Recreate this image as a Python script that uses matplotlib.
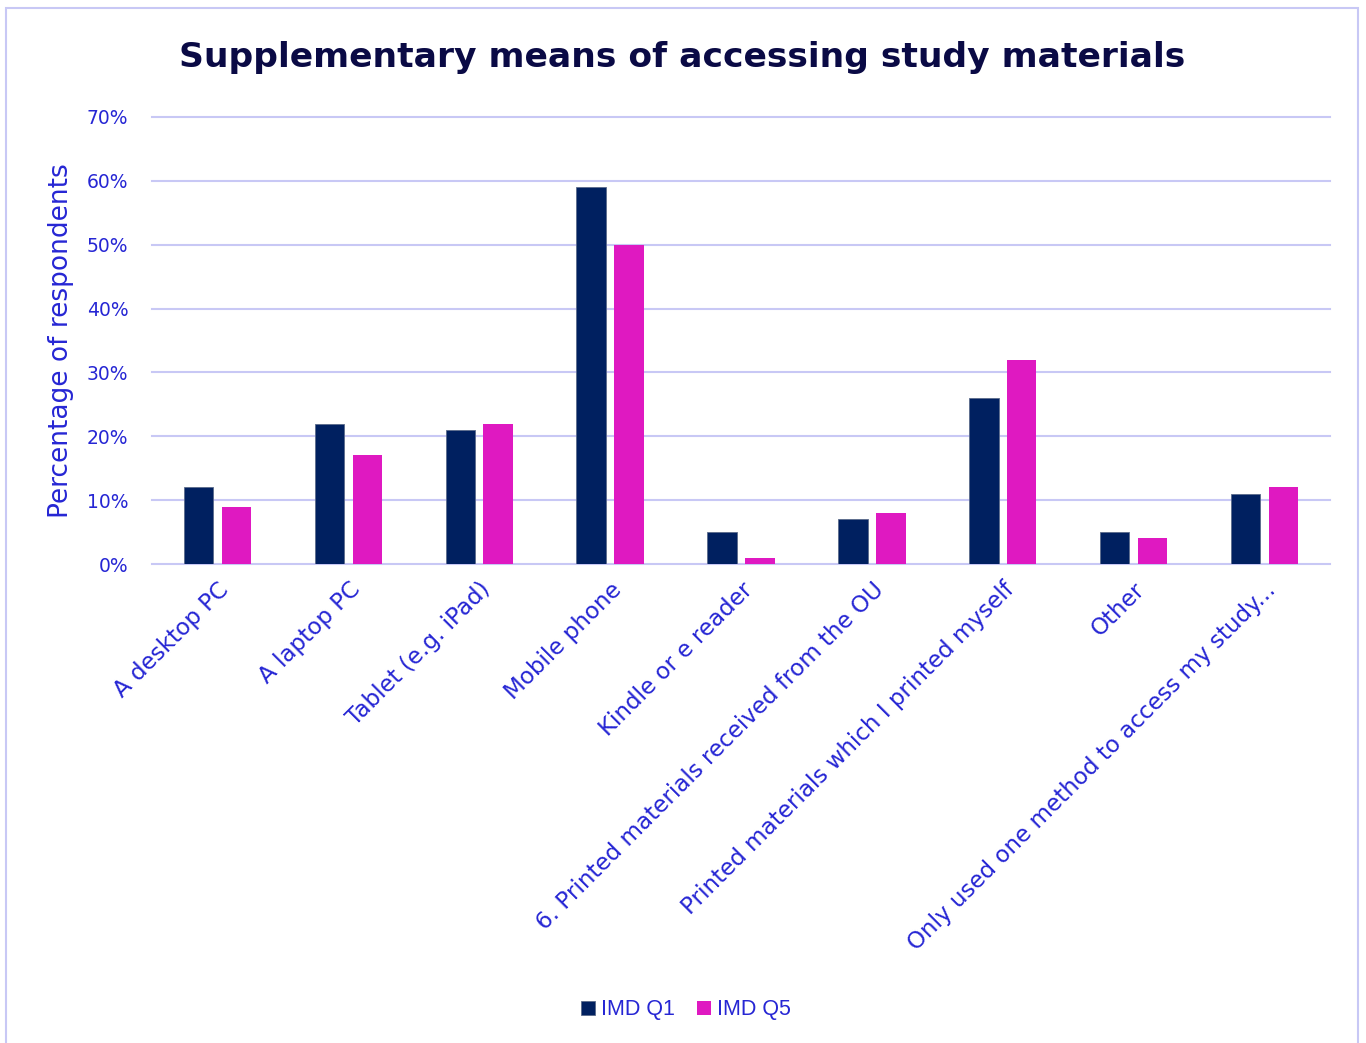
import matplotlib.pyplot as plt
import numpy as np
from matplotlib.patches import Rectangle
from matplotlib.ticker import PercentFormatter

categories = ["A desktop PC", "A laptop PC", "Tablet (e.g. iPad)", "Mobile phone",
              "Kindle or e reader", "6. Printed materials received from the OU",
              "Printed materials which I printed myself", "Other",
              "Only used one method to access my study..."]
imd_q1 = [12, 22, 21, 59, 5, 7, 26, 5, 11]
imd_q5 = [9, 17, 22, 50, 1, 8, 32, 4, 12]

navy = "#002060"
magenta = "#DF19C1"
blue_txt = "#2626D4"
grid_col = "#C8C8F5"

fig = plt.figure(figsize=(13.66, 10.43), dpi=100)
# outer chart border
fig.patches.append(Rectangle((6 / 1366, -0.01), 1352 / 1366, 1 - 8 / 1043 + 0.01,
                             transform=fig.transFigure, fill=False,
                             edgecolor="#C8C8F5", linewidth=1.5))

ax = fig.add_axes([152 / 1366, 1 - 564 / 1043, 1178 / 1366, 447 / 1043])
x = np.arange(len(categories))
w = 0.225
ax.bar(x - 0.145, imd_q1, w, color=navy, label="IMD Q1", zorder=3,
       edgecolor="#5a6a8a", linewidth=0.6)
ax.bar(x + 0.145, imd_q5, w, color=magenta, label="IMD Q5", zorder=3)

ax.set_xlim(-0.5, len(categories) - 0.5)
ax.set_ylim(0, 70)
ax.set_yticks(range(0, 71, 10))
ax.yaxis.set_major_formatter(PercentFormatter(decimals=0))
ax.grid(axis="y", color=grid_col, linewidth=1.5, zorder=0)
for gl in ax.get_ygridlines():
    gl.set_clip_on(False)
for s in ax.spines.values():
    s.set_visible(False)
ax.tick_params(axis="both", length=0, labelcolor=blue_txt)
ax.tick_params(axis="y", pad=17, labelsize=13.5)
ax.set_xticks(x)
ax.set_xticklabels(categories, rotation=45, ha="right", rotation_mode="anchor",
                   fontsize=16.6, family="DejaVu Sans")
ax.tick_params(axis="x", pad=10)
ax.set_ylabel("Percentage of respondents", fontsize=19, color=blue_txt,
              family="DejaVu Sans", labelpad=9)

fig.text(682 / 1366, 1 - 58 / 1043, "Supplementary means of accessing study materials",
         ha="center", va="center", fontsize=24.8, fontweight="bold",
         color="#0A0A45", family="DejaVu Sans")

leg = fig.legend(loc="center", bbox_to_anchor=(686 / 1366, 1 - 1010 / 1043), ncol=2,
                 frameon=False, handlelength=0.65, handleheight=0.65,
                 handletextpad=0.3, columnspacing=1.0,
                 prop={"family": "Liberation Sans", "size": 15.5})
for t in leg.get_texts():
    t.set_color(blue_txt)

fig.savefig("out.png", dpi=100)
